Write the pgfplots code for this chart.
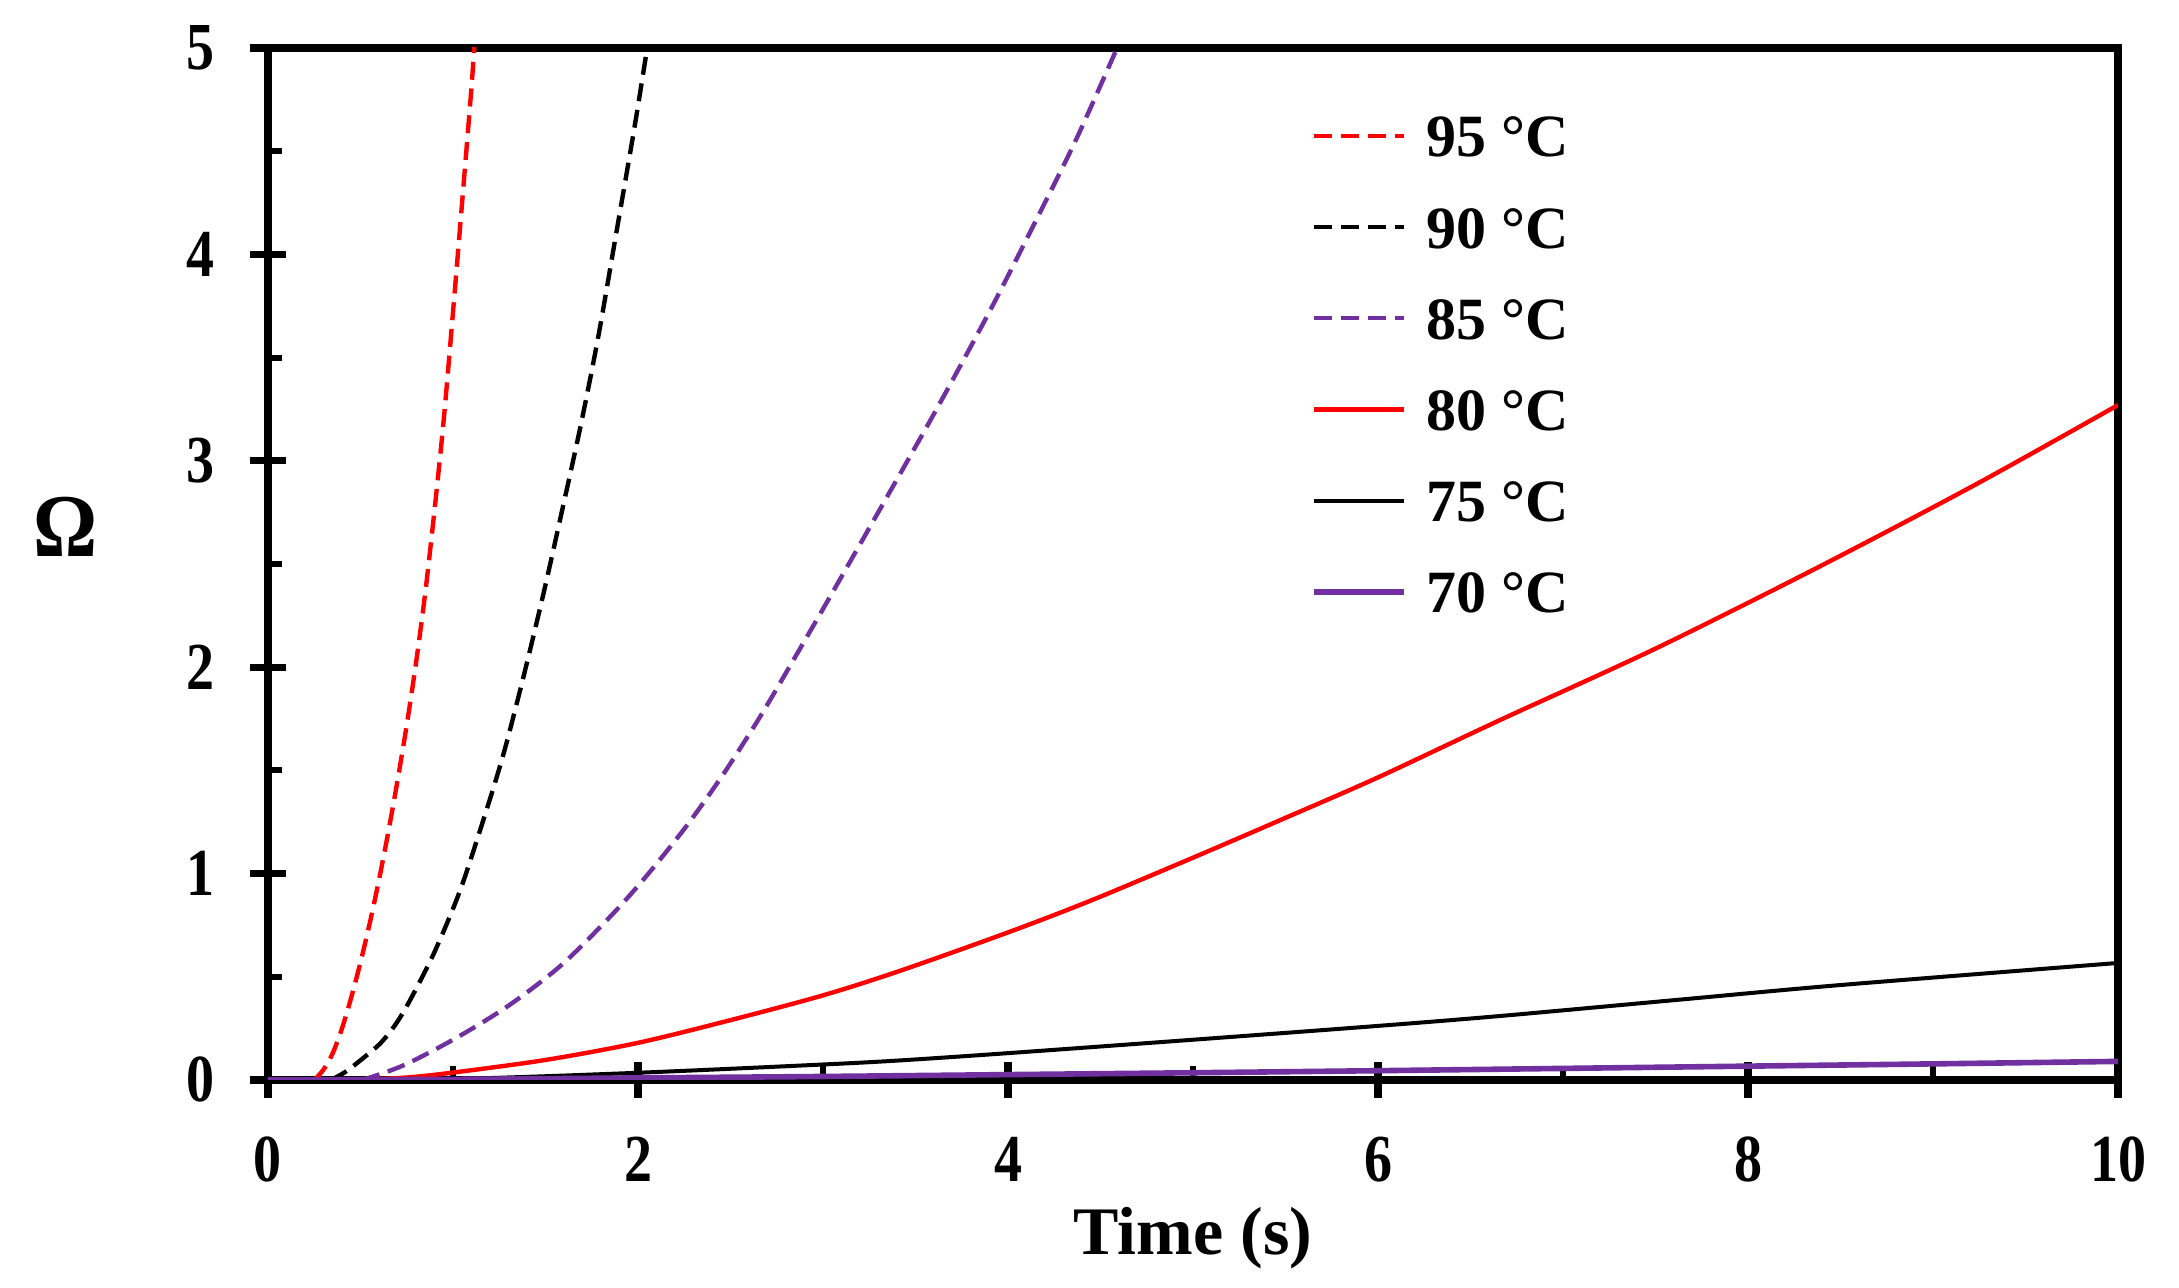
\documentclass[border=0pt]{standalone}
\usepackage{fontspec}
\setmainfont{Liberation Serif}
\usepackage{pgfplots}
\pgfplotsset{compat=1.18}
\definecolor{mypurple}{RGB}{112,48,160}
\begin{document}
\begin{tikzpicture}
\begin{axis}[
  scale only axis,
  width=462.5pt, height=258pt,
  xmin=0, xmax=10, ymin=0, ymax=5,
  xtick={0,2,4,6,8,10}, ytick={0,1,2,3,4,5},
  minor x tick num=1, minor y tick num=1,
  xtick pos=bottom, ytick pos=left,
  tick align=center,
  major tick length=9pt, minor tick length=3.5pt,
  every minor x tick/.append style={yshift=1.75pt},
  every minor y tick/.append style={xshift=1.75pt},
  axis line style={line width=1.8pt},
  major tick style={line width=1.8pt, black},
  minor tick style={line width=1.5pt, black},
  /pgf/number format/assume math mode=true,
  tick label style={font=\fontsize{14}{16}\selectfont\bfseries},
  xticklabel={\scalebox{1}[1.2]{\pgfmathprintnumber{\tick}}},
  yticklabel={\scalebox{1}[1.2]{\pgfmathprintnumber{\tick}}},
  xticklabel style={anchor=north, inner sep=0pt, yshift=-9.5pt},
  yticklabel style={anchor=east, inner sep=0pt, xshift=-8.6pt},
  xlabel={Time (s)}, ylabel={\scalebox{1}[1.12]{Ω}},
  every axis x label/.style={at={(rel axis cs:0.5,0)}, anchor=center, yshift=-39.5pt, font=\fontsize{17}{20}\selectfont\bfseries},
  every axis y label/.style={at={(rel axis cs:0,0.536)}, anchor=center, xshift=-50.5pt, font=\fontsize{20}{24}\selectfont\bfseries},
  legend cell align=left,
  legend image code/.code={\draw[#1] (0pt,0pt) -- (22.5pt,0pt);},
  legend style={at={(rel axis cs:0.5635,0.936)}, anchor=north west, draw=none, fill=none,
    font=\fontsize{15}{17}\selectfont\bfseries, row sep=12.3pt, inner sep=0pt,
    nodes={inner xsep=5pt, inner ysep=0pt, text height=10.5pt, text depth=0pt}},
]
\addplot[red, line width=1.1pt, dash pattern=on 4.5pt off 2.2pt, smooth] coordinates {
(0.25,0)(0.30,0.05)(0.35,0.13)(0.40,0.25)(0.45,0.40)(0.50,0.57)(0.55,0.76)(0.60,0.97)(0.65,1.20)(0.70,1.45)(0.75,1.72)(0.80,2.02)(0.85,2.36)(0.90,2.76)(0.95,3.20)(1.00,3.72)(1.05,4.26)(1.10,4.81)(1.118,5.05)};
\addlegendentry{95 °C}
\addplot[black, line width=1.1pt, dash pattern=on 4.5pt off 2.2pt, smooth] coordinates {
(0.34,0)(0.42,0.04)(0.52,0.11)(0.61,0.18)(0.69,0.27)(0.77,0.39)(0.90,0.62)(1.035,0.91)(1.15,1.22)(1.27,1.57)(1.38,1.95)(1.49,2.36)(1.59,2.76)(1.69,3.17)(1.785,3.60)(1.88,4.09)(1.98,4.61)(2.05,5.0)(2.07,5.1)};
\addlegendentry{90 °C}
\addplot[mypurple, line width=1.1pt, dash pattern=on 4.5pt off 2.2pt, smooth] coordinates {
(0.51,0)(0.73,0.07)(1.01,0.20)(1.30,0.36)(1.59,0.56)(1.88,0.82)(2.075,1.02)(2.27,1.24)(2.46,1.48)(2.66,1.76)(2.85,2.05)(3.05,2.36)(3.33,2.80)(3.62,3.26)(3.91,3.74)(4.16,4.18)(4.37,4.56)(4.59,5.0)(4.64,5.1)};
\addlegendentry{85 °C}
\addplot[red, line width=1.1pt, smooth] coordinates {
(0,0)(0.5,0.003)(0.75,0.012)(1.0,0.036)(1.5,0.097)(2.0,0.18)(2.5,0.29)(3.0,0.41)(3.42,0.53)(4.0,0.715)(4.45,0.87)(5.0,1.077)(5.5,1.27)(6.0,1.466)(6.66,1.744)(7.5,2.09)(8.37,2.48)(9.22,2.88)(10,3.27)};
\addlegendentry{80 °C}
\addplot[black, line width=1pt, smooth] coordinates {
(0,0)(1,0.005)(2,0.035)(3,0.075)(3.42,0.095)(4,0.13)(5,0.195)(6,0.262)(6.66,0.31)(7.64,0.39)(8.5,0.46)(10,0.567)};
\addlegendentry{75 °C}
\addplot[mypurple, line width=1.4pt, smooth] coordinates {
(0,0)(1,0.003)(2,0.01)(3,0.017)(4,0.026)(5,0.035)(6,0.045)(7,0.056)(8,0.067)(9,0.078)(10,0.09)};
\addlegendentry{70 °C}
\end{axis}
\pgfresetboundingbox
\path[use as bounding box] ([shift={(-67pt,-52pt)}]current axis.south west) rectangle ([shift={(15.25pt,12pt)}]current axis.north east);
\end{tikzpicture}
\end{document}
